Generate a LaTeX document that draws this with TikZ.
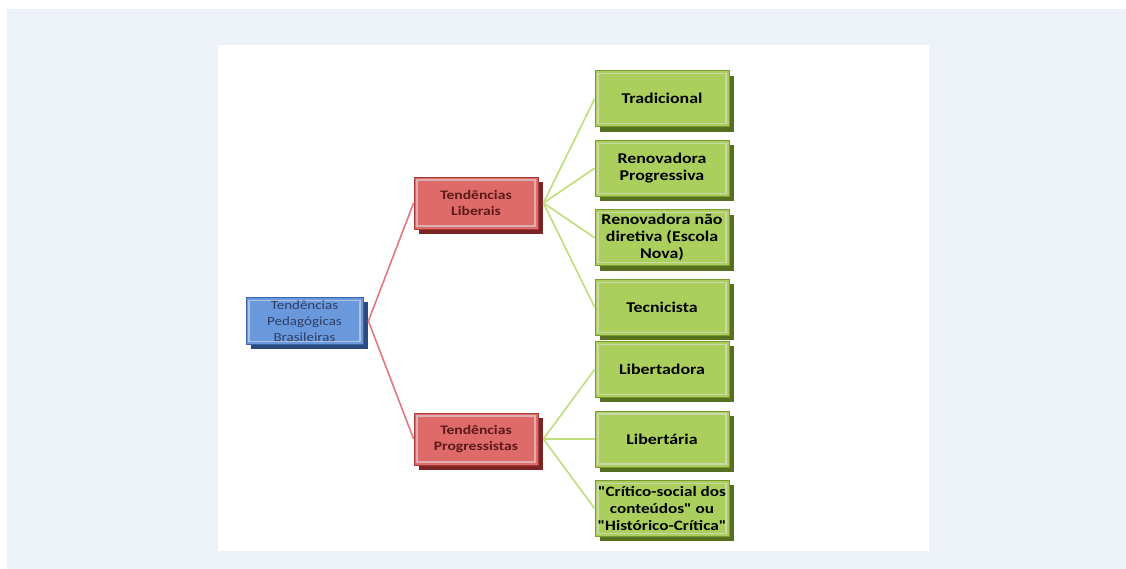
\documentclass[tikz,border=0pt]{standalone}
\usepackage{fontspec}
\setmainfont{Carlito}
\newfontfamily\boxfont[FakeStretch=1.2]{Carlito}
\newcommand\dq{\char34\relax}
\usetikzlibrary{trees,shadows}

\definecolor{panel}{HTML}{EDF1F8}
\definecolor{blueface}{HTML}{6A98DC}
\definecolor{blueedge}{HTML}{3A64A8}
\definecolor{blueside}{HTML}{2C4A80}
\definecolor{bluetext}{HTML}{2E3F66}
\definecolor{redface}{HTML}{DE6A6A}
\definecolor{rededge}{HTML}{A83A3A}
\definecolor{redside}{HTML}{7A2424}
\definecolor{redtext}{HTML}{5C1A1A}
\definecolor{greenface}{HTML}{AACF5C}
\definecolor{greenedge}{HTML}{7A9A32}
\definecolor{greenside}{HTML}{55701F}
\definecolor{redline}{HTML}{E27884}
\definecolor{greenline}{HTML}{BEDD7C}

\begin{document}
\begin{tikzpicture}[
	x=1pt, y=1pt,
	box/.style n args={3}{rectangle, align=center, inner sep=1pt,
		fill=#1, draw=#2, line width=0.8pt,
		general shadow={fill=#3, shadow xshift=5pt, shadow yshift=-5pt},
		path picture={\draw[#2!40!white, line width=1.2pt]
			([shift={(3pt,-3pt)}]path picture bounding box.north west) rectangle
			([shift={(-3pt,3pt)}]path picture bounding box.south east);}},
	rootbox/.style={box={blueface}{blueedge}{blueside}, minimum width=117pt, minimum height=47pt,
		text=bluetext, font=\boxfont\fontsize{12.5}{16}\selectfont},
	redbox/.style={box={redface}{rededge}{redside}, minimum width=124pt, minimum height=52pt,
		text=redtext, font=\boxfont\bfseries\fontsize{13}{16}\selectfont},
	greenbox/.style={box={greenface}{greenedge}{greenside}, minimum width=134pt, minimum height=56pt,
		text=black, font=\boxfont\bfseries\fontsize{14.9}{17}\selectfont},
	grow'=right,
	edge from parent path={([xshift=5pt]\tikzparentnode.east) -- (\tikzchildnode.west)},
	level 1/.style={level distance=171.5pt, sibling distance=236pt,
		edge from parent/.style={draw=redline, line width=1.6pt}},
	level 2/.style={level distance=186pt, sibling distance=69.5pt,
		edge from parent/.style={draw=greenline, line width=1.6pt}}
]
	\useasboundingbox (0,0) rectangle (1126,569);
	\fill[white] (0,0) rectangle (1126,569);
	\fill[panel] (7,0) rectangle (1126,560);
	\fill[white] (218,18) rectangle (929,524);

	\node[rootbox] (root) at (304.5,248) {Tendências\\Pedagógicas\\Brasileiras}  % root {
		child { node[redbox] (liberais) {Tendências\\Liberais}
			child { node[greenbox] (tradicional) {Tradicional} }
			child { node[greenbox] (renprog) {Renovadora\\Progressiva} }
			child { node[greenbox] (rennaodir) {Renovadora não\\diretiva (Escola\\Nova)} }
			child { node[greenbox] (tecnicista) {Tecnicista} }
		}
		child { node[redbox] (progressistas) {Tendências\\Progressistas}
			child { node[greenbox] (libertadora) {Libertadora} }
			child { node[greenbox] (libertaria) {Libertária} }
			child { node[greenbox, font=\boxfont\bfseries\fontsize{14.3}{17}\selectfont, inner sep=0pt] (critico)
				{\dq Crítico-social dos\\conteúdos\dq{} ou\\\dq Histórico-Crítica\dq} }
		}
	;
\end{tikzpicture}
\end{document}
